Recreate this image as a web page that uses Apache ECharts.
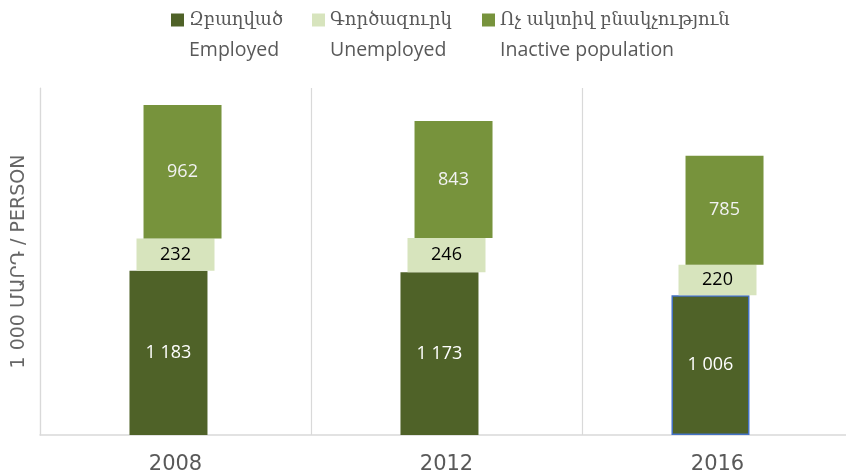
<!DOCTYPE html>
<html>
<head>
<meta charset="utf-8">
<script src="https://cdn.jsdelivr.net/npm/echarts@6/dist/echarts.min.js"></script>
<style>
  html, body { margin: 0; padding: 0; background: #fff; }
  #chart { width: 846px; height: 472px; }
</style>
</head>
<body>
<div id="chart"></div>
<script>
// data
const years = ['2008', '2012', '2016'];
const employed = [1183, 1173, 1006];
const unemployed = [232, 246, 220];
const inactive = [962, 843, 785];
const namesHy = ['Զբաղված', 'Գործազուրկ', 'Ոչ ակտիվ բնակչություն'];
const namesEn = ['Employed', 'Unemployed', 'Inactive population'];
const axisTitle = '1 000 ՄԱՐԴ / PERSON';

const colors = ['#4F6228', '#D7E4BD', '#77933C'];
const legendLeft = [171, 312, 482];

const fmt = v => String(v).replace(/\B(?=(\d{3})+(?!\d))/g, ' ');

const chart = echarts.init(document.getElementById('chart'), null, { renderer: 'canvas' });

// one legend per item and per line so the Armenian and English rows line up like the original
const legends = [];
namesHy.forEach((n, i) => {
  legends.push({
    left: legendLeft[i], top: 11, padding: 0,
    data: [n], selectedMode: false,
    itemWidth: 13, itemHeight: 13, icon: 'rect',
    textStyle: { color: '#595959', fontSize: 18, fontFamily: "'DejaVu Serif'", lineHeight: 18 }
  });
  legends.push({
    left: legendLeft[i], top: 40, padding: 0,
    data: [n], selectedMode: false,
    itemWidth: 13, itemHeight: 13, icon: 'rect',
    itemStyle: { opacity: 0, color: 'rgba(0,0,0,0)' },
    formatter: () => namesEn[i],
    textStyle: { color: '#595959', fontSize: 19.5, fontFamily: "'Open Sans'", lineHeight: 18 }
  });
});

const labelBase = { show: true, position: 'inside', fontFamily: "'Open Sans'", fontSize: 18, formatter: p => fmt(p.value) };

const option = {
  backgroundColor: '#fff',
  animation: false,
  legend: legends,
  grid: { left: 40, right: -7, top: 88, bottom: 37, outerBoundsMode: 'none' },
  xAxis: {
    type: 'category',
    data: years,
    axisLine: { lineStyle: { color: '#d9d9d9', width: 1.5 } },
    axisTick: { show: false },
    splitLine: { show: true, lineStyle: { color: '#d9d9d9', width: 1.2 } },
    axisLabel: { color: '#595959', fontSize: 21, fontFamily: "'DejaVu Sans'", margin: 19 }
  },
  yAxis: {
    type: 'value',
    min: 0, max: 2500,
    axisLine: { show: true, lineStyle: { color: '#d9d9d9', width: 1.2 } },
    axisTick: { show: false },
    axisLabel: { show: false },
    splitLine: { show: false },
    name: axisTitle,
    nameLocation: 'middle',
    nameGap: 11,
    nameTextStyle: { color: '#666666', fontSize: 19, fontFamily: "'DejaVu Sans'" }
  },
  series: [
    {
      name: namesHy[0], type: 'bar', stack: 'a', barWidth: 78, barGap: '-91%',
      itemStyle: { color: colors[0] },
      data: employed.map((v, i) => i === 2
        ? { value: v, itemStyle: { borderColor: '#4472C4', borderWidth: 1.5 } }
        : v),
      label: Object.assign({}, labelBase, { color: '#ffffff' })
    },
    {
      name: 'base1', type: 'bar', stack: 'b', barWidth: 78, silent: true,
      itemStyle: { color: 'rgba(0,0,0,0)' },
      data: employed
    },
    {
      name: namesHy[1], type: 'bar', stack: 'b', barWidth: 78,
      itemStyle: { color: colors[1] },
      data: unemployed,
      label: Object.assign({}, labelBase, { color: '#000000' })
    },
    {
      name: 'base2', type: 'bar', stack: 'c', barWidth: 78, silent: true,
      itemStyle: { color: 'rgba(0,0,0,0)' },
      data: employed.map((v, i) => v + unemployed[i])
    },
    {
      name: namesHy[2], type: 'bar', stack: 'c', barWidth: 78,
      itemStyle: { color: colors[2] },
      data: inactive,
      label: Object.assign({}, labelBase, { color: '#f2f2f2' })
    }
  ]
};

chart.setOption(option);
window.addEventListener('resize', () => chart.resize());
</script>
</body>
</html>
